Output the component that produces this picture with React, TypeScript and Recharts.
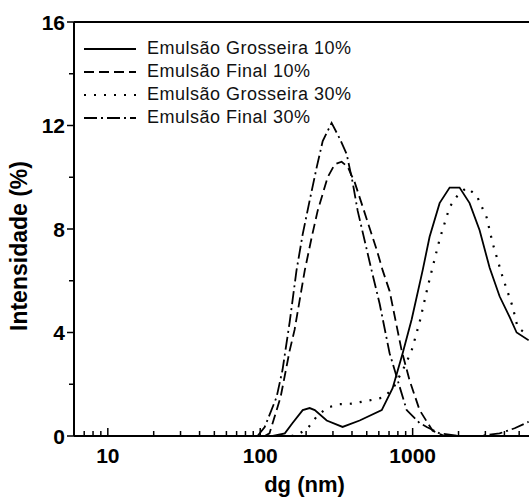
import { Legend, Line, LineChart, ReferenceLine, XAxis, YAxis } from "recharts";

const FONT = "'Liberation Sans', Arial, Helvetica, sans-serif";

// [dg (nm), intensidade (%)]
const grosseira10: [number, number][] = [
  [121, 0], [145, 0.1], [163, 0.5], [190, 1.0], [211, 1.08], [228, 1.0], [273, 0.6],
  [347, 0.35], [449, 0.6], [627, 1.0], [739, 1.85], [860, 3.2], [985, 4.5], [1163, 6.4],
  [1292, 7.7], [1503, 9.0], [1749, 9.6], [2032, 9.6], [2364, 9.0], [2750, 7.95],
  [3200, 6.5], [3719, 5.4], [4325, 4.6], [4811, 4.0], [5770, 3.7],
];
const final10: [number, number][] = [
  [107, 0], [115, 0.1], [136, 1.5], [156, 3.3], [168, 4.1], [196, 6.4], [218, 7.7],
  [238, 8.7], [277, 10.0], [308, 10.5], [342, 10.6], [375, 10.4], [417, 9.8], [581, 7.2],
  [636, 6.4], [706, 5.6], [847, 3.3], [955, 2.15], [1111, 1.0], [1352, 0.2], [1621, 0],
];
const grosseira30: [number, number][] = [
  [160, 0], [176, 0.05], [205, 0.3], [238, 0.8], [277, 1.1], [332, 1.23], [398, 1.25],
  [547, 1.4], [655, 1.5], [762, 1.95], [887, 2.7], [985, 3.3], [1111, 4.4], [1254, 5.75],
  [1503, 7.6], [1749, 8.85], [1974, 9.3], [2259, 9.6], [2628, 9.3], [3057, 8.45],
  [3350, 7.45], [3890, 6.15], [4527, 5.0], [4883, 4.2], [5700, 3.9],
];
const final30: [number, number][] = [
  [96, 0], [107, 0.35], [128, 1.5], [140, 2.55], [156, 4.4], [173, 6.4], [190, 7.8],
  [211, 9.1], [235, 10.4], [257, 11.4], [294, 12.1], [332, 11.5], [369, 10.9], [404, 9.8],
  [436, 8.7], [538, 6.4], [608, 5.1], [706, 3.2], [798, 2.15], [914, 1.0], [1111, 0.5],
  [1237, 0.35], [1503, 0.1], [2032, 0], [2750, 0], [3719, 0.1], [4669, 0.3], [5770, 0.55],
];

const xTicks = [
  6, 7, 8, 9, 10, 20, 30, 40, 50, 60, 70, 80, 90, 100, 200, 300, 400, 500, 600, 700, 800,
  900, 1000, 2000, 3000, 4000, 5000,
];
const xLabels = [10, 100, 1000];
const yTicks = [0, 2, 4, 6, 8, 10, 12, 14, 16];
const yLabels = [0, 4, 8, 12, 16];

const series = [
  { name: "Emulsão Grosseira 10%", data: grosseira10, dash: undefined },
  { name: "Emulsão Final 10%", data: final10, dash: "10 5" },
  { name: "Emulsão Grosseira 30%", data: grosseira30, dash: "2 8" },
  { name: "Emulsão Final 30%", data: final30, dash: "13 4 2 4" },
];

const toPoints = (d: [number, number][]) => d.map(([x, y]) => ({ x, y }));

function XTick(props: any) {
  const { x, y, payload } = props;
  const major = xLabels.includes(payload.value);
  return (
    <g>
      <line x1={x} x2={x} y1={y} y2={y - (major ? 8 : 5)} stroke="#000" strokeWidth={1.5} />
      {major && (
        <text x={x} y={y + 27} textAnchor="middle" fontFamily={FONT} fontWeight="bold" fontSize={21} fill="#000">
          {payload.value}
        </text>
      )}
    </g>
  );
}

function YTick(props: any) {
  const { x, y, payload } = props;
  const major = yLabels.includes(payload.value);
  return (
    <g>
      <line x1={x} x2={x - (major ? 7 : 5)} y1={y} y2={y} stroke="#000" strokeWidth={1.5} />
      {major && (
        <text x={x - 9} y={y + 7.5} textAnchor="end" fontFamily={FONT} fontWeight="bold" fontSize={21} fill="#000">
          {payload.value}
        </text>
      )}
    </g>
  );
}

function LegendBox() {
  return (
    <div style={{ fontFamily: FONT, fontSize: 18, color: "#111" }}>
      {series.map((s) => (
        <div key={s.name} style={{ display: "flex", alignItems: "center", height: 23 }}>
          <svg width={52} height={6}>
            <line x1={0} x2={52} y1={3} y2={3} stroke="#000" strokeWidth={1.8} strokeDasharray={s.dash} />
          </svg>
          <span style={{ marginLeft: 11, whiteSpace: "nowrap", letterSpacing: 0.5 }}>{s.name}</span>
        </div>
      ))}
    </div>
  );
}

export default function App() {
  return (
    <div style={{ position: "absolute", left: 0, top: 0, background: "#fff" }}>
      <LineChart width={529} height={499} margin={{ top: 22, right: 0, bottom: 0, left: 0 }}>
        <XAxis
          dataKey="x"
          type="number"
          scale="log"
          domain={[6, 5800]}
          allowDataOverflow
          ticks={xTicks}
          interval={0}
          tick={<XTick />}
          tickLine={false}
          tickSize={0}
          tickMargin={0}
          height={63}
          axisLine={{ stroke: "#000", strokeWidth: 2 }}
          label={{
            content: (p: any) => (
              <text
                x={p.viewBox.x + p.viewBox.width / 2 + 3}
                y={p.viewBox.y + 56}
                textAnchor="middle"
                fontFamily={FONT}
                fontWeight="bold"
                fontSize={22}
                fill="#000"
              >
                dg (nm)
              </text>
            ),
          }}
        />
        <YAxis
          type="number"
          domain={[0, 16]}
          ticks={yTicks}
          interval={0}
          tick={<YTick />}
          tickLine={false}
          tickSize={0}
          tickMargin={0}
          width={74}
          axisLine={{ stroke: "#000", strokeWidth: 2 }}
          label={{
            content: (p: any) => {
              const cx = p.viewBox.x + 19;
              const cy = p.viewBox.y + p.viewBox.height / 2 + 17;
              return (
                <text
                  x={cx}
                  y={cy}
                  transform={`rotate(-90 ${cx} ${cy})`}
                  textAnchor="middle"
                  dominantBaseline="central"
                  fontFamily={FONT}
                  fontWeight="bold"
                  fontSize={23}
                  fill="#000"
                >
                  Intensidade (%)
                </text>
              );
            },
          }}
        />
        <ReferenceLine y={16} stroke="#000" strokeWidth={2} />
        <Legend
          layout="vertical"
          align="center"
          verticalAlign="middle"
          content={<LegendBox />}
          wrapperStyle={{ top: 37, left: 84, width: 320 }}
        />
        {series.map((s) => (
          <Line
            key={s.name}
            data={toPoints(s.data)}
            dataKey="y"
            name={s.name}
            type="linear"
            stroke="#000"
            strokeWidth={s.dash === "2 8" ? 2.2 : 1.8}
            strokeDasharray={s.dash}
            dot={false}
            activeDot={false}
            isAnimationActive={false}
          />
        ))}
      </LineChart>
    </div>
  );
}
